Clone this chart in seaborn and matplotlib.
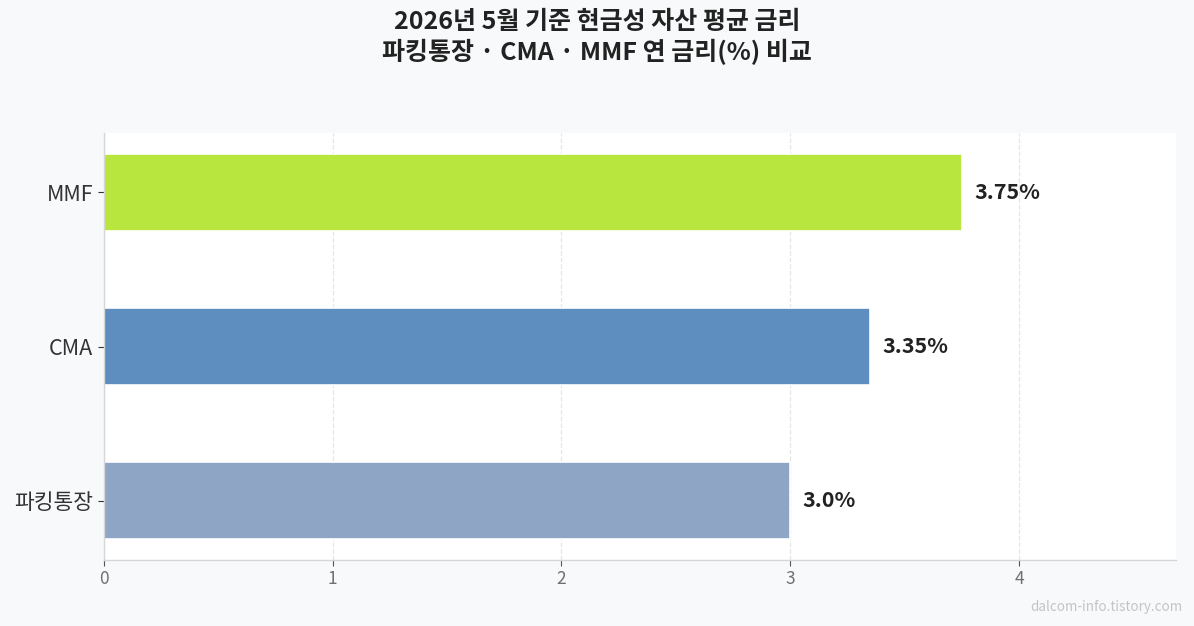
import matplotlib
matplotlib.use('Agg')
import matplotlib.pyplot as plt
import seaborn as sns
import pandas as pd

# data
products = ['MMF', 'CMA', '파킹통장']
rates = [3.75, 3.35, 3.0]
rate_labels = ['3.75%', '3.35%', '3.0%']
bar_colors = ['#b8e63f', '#5d8ebf', '#8fa5c6']

title = '2026년 5월 기준 현금성 자산 평균 금리\n파킹통장 · CMA · MMF 연 금리(%) 비교'
watermark = 'dalcom-info.tistory.com'

df = pd.DataFrame({'product': products, 'rate': rates})

sns.set_style('white')
plt.rcParams['font.family'] = ['Noto Sans CJK KR', 'DejaVu Sans']

fig = plt.figure(figsize=(11.94, 6.26), dpi=100, facecolor='#f8f9fa')
ax = fig.add_axes([0.0871, 0.1054, 0.898, 0.682])
ax.set_facecolor('white')

sns.barplot(data=df, x='rate', y='product', hue='product', palette=bar_colors,
            saturation=1, legend=False, width=0.5, edgecolor='white',
            linewidth=1.2, ax=ax)

# value labels
for i, (v, lab) in enumerate(zip(rates, rate_labels)):
    ax.text(v + 0.055, i, lab, va='center', ha='left', fontsize=15.5,
            fontweight='bold', color='#222222')

ax.set_xlim(0, max(rates) * 1.25)
ax.set_ylim(2.385, -0.385)
ax.set_xticks([0, 1, 2, 3, 4])
ax.set_xlabel('')
ax.set_ylabel('')

ax.grid(axis='x', linestyle='--', color='#e6e6e6', linewidth=0.9)
ax.grid(axis='y', visible=False)
ax.set_axisbelow(True)

for side in ['top', 'right']:
    ax.spines[side].set_visible(False)
for side in ['left', 'bottom']:
    ax.spines[side].set_color('#d6d6d6')
    ax.spines[side].set_linewidth(1.0)

ax.tick_params(axis='y', labelsize=15.5, colors='#333333', length=4, width=0.8,
               left=True, pad=4)
ax.tick_params(axis='x', labelsize=12.5, labelcolor='#707070', color='#555555',
               length=4, width=0.8, bottom=True)

fig.text(0.5, 0.94, title, ha='center', va='center', fontsize=18,
         fontweight='bold', color='#222222', linespacing=1.25)
fig.text(0.99, 0.031, watermark, ha='right', va='center', fontsize=9.7,
         color='#c4c4c4')

fig.savefig('out.png', dpi=100, facecolor=fig.get_facecolor())
